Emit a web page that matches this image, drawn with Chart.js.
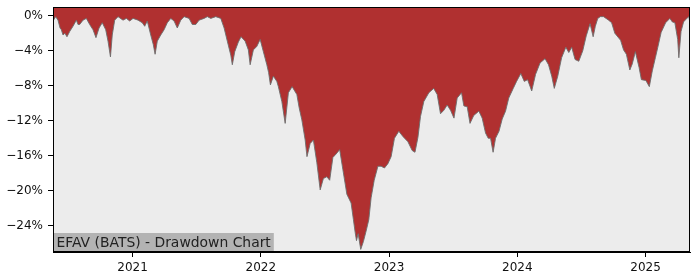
<!DOCTYPE html>
<html>
<head>
<meta charset="utf-8">
<title>EFAV (BATS) - Drawdown Chart</title>
<script src="https://cdn.jsdelivr.net/npm/chart.js@4.4.1/dist/chart.umd.min.js"></script>
<style>
  html, body { margin: 0; padding: 0; background: #ffffff; }
  #wrap { position: relative; width: 700px; height: 280px; }
</style>
</head>
<body>
<div id="wrap"><canvas id="dd-canvas" width="700" height="280"></canvas></div>
<script>
// dates as decimal years
const dates = [
  2020.384, 2020.401, 2020.419, 2020.435, 2020.445, 2020.458, 2020.473, 2020.489, 2020.510, 2020.536,
  2020.562, 2020.575, 2020.588, 2020.614, 2020.640, 2020.666, 2020.692, 2020.715, 2020.739, 2020.764,
  2020.791, 2020.809, 2020.828, 2020.842, 2020.861, 2020.887, 2020.926, 2020.952, 2020.978, 2021.004,
  2021.043, 2021.076, 2021.095, 2021.115, 2021.142, 2021.162, 2021.176, 2021.193, 2021.220, 2021.246,
  2021.271, 2021.298, 2021.324, 2021.349, 2021.376, 2021.402, 2021.441, 2021.466, 2021.493, 2021.519,
  2021.558, 2021.583, 2021.610, 2021.649, 2021.688, 2021.714, 2021.739, 2021.766, 2021.778, 2021.797,
  2021.825, 2021.846, 2021.878, 2021.903, 2021.917, 2021.942, 2021.969, 2021.995, 2022.020, 2022.047,
  2022.061, 2022.075, 2022.098, 2022.125, 2022.137, 2022.164, 2022.190, 2022.215, 2022.244, 2022.281,
  2022.299, 2022.320, 2022.346, 2022.360, 2022.385, 2022.410, 2022.437, 2022.463, 2022.488, 2022.515,
  2022.537, 2022.562, 2022.587, 2022.615, 2022.640, 2022.671, 2022.704, 2022.722, 2022.736, 2022.746,
  2022.759, 2022.779, 2022.800, 2022.821, 2022.842, 2022.860, 2022.884, 2022.913, 2022.938, 2022.964,
  2022.991, 2023.016, 2023.042, 2023.076, 2023.108, 2023.147, 2023.180, 2023.202, 2023.225, 2023.245,
  2023.271, 2023.310, 2023.348, 2023.375, 2023.401, 2023.427, 2023.453, 2023.479, 2023.506, 2023.531,
  2023.565, 2023.583, 2023.609, 2023.631, 2023.660, 2023.700, 2023.726, 2023.752, 2023.773, 2023.791,
  2023.811, 2023.830, 2023.857, 2023.882, 2023.908, 2023.933, 2023.968, 2023.994, 2024.027, 2024.054,
  2024.080, 2024.112, 2024.142, 2024.177, 2024.216, 2024.243, 2024.268, 2024.288, 2024.315, 2024.345,
  2024.378, 2024.401, 2024.424, 2024.450, 2024.479, 2024.510, 2024.537, 2024.567, 2024.591, 2024.608,
  2024.627, 2024.647, 2024.672, 2024.711, 2024.735, 2024.760, 2024.805, 2024.828, 2024.850, 2024.877,
  2024.896, 2024.920, 2024.949, 2024.967, 2025.002, 2025.029, 2025.052, 2025.076, 2025.095, 2025.121,
  2025.156, 2025.189, 2025.208, 2025.228, 2025.250, 2025.259, 2025.276, 2025.296, 2025.321, 2025.337,
  2025.345
];

// drawdown in percent
const drawdown = [
  -0.5, -0.1, -0.5, -1.4, -1.6, -2.2, -2.0, -2.4, -1.8, -1.2,
  -0.5, -1.0, -1.0, -0.5, -0.3, -1.0, -1.6, -2.5, -1.4, -0.8,
  -1.6, -2.9, -4.7, -2.2, -0.5, -0.1, -0.5, -0.3, -0.6, -0.3,
  -0.5, -0.8, -1.2, -0.6, -2.2, -3.3, -4.4, -2.9, -2.2, -1.6,
  -0.8, -0.3, -0.6, -1.4, -0.5, -0.1, -0.3, -1.0, -1.0, -0.5,
  -0.3, -0.1, -0.3, -0.1, -0.3, -1.4, -2.9, -4.5, -5.6, -4.1,
  -3.0, -2.4, -2.9, -3.9, -5.6, -3.9, -3.5, -2.7, -4.1, -5.6,
  -6.5, -7.9, -6.9, -7.5, -8.1, -9.8, -12.3, -8.8, -8.1, -9.0,
  -10.5, -11.9, -14.2, -16.1, -14.6, -14.2, -16.8, -19.9, -18.6, -18.4,
  -18.8, -16.2, -15.8, -15.3, -17.6, -20.4, -21.4, -23.3, -24.8, -25.7,
  -24.9, -26.7, -25.8, -24.6, -23.3, -20.8, -18.8, -17.2, -17.2, -17.4,
  -16.9, -16.1, -14.0, -13.2, -13.8, -14.4, -15.4, -15.6, -13.9, -11.5,
  -9.8, -8.8, -8.3, -9.0, -11.2, -10.8, -10.2, -10.8, -11.7, -9.4,
  -8.8, -10.3, -10.4, -12.3, -11.4, -10.9, -11.7, -13.4, -14.0, -14.0,
  -15.6, -14.0, -13.2, -11.8, -10.9, -9.4, -8.3, -7.5, -6.6, -7.5,
  -7.3, -8.6, -6.7, -5.4, -4.9, -5.6, -6.9, -8.3, -6.9, -4.8,
  -3.6, -4.2, -3.6, -5.0, -5.2, -4.0, -2.3, -0.9, -2.4, -1.2,
  -0.3, -0.1, -0.1, -0.5, -0.8, -2.0, -2.8, -3.9, -4.4, -6.2,
  -5.5, -4.1, -5.9, -7.3, -7.4, -8.1, -6.3, -4.8, -3.6, -1.9,
  -0.8, -0.3, -0.7, -0.8, -2.7, -4.8, -1.8, -0.7, -0.3, -0.1,
  -0.8
];

const xTicks = [2021, 2022, 2023, 2024, 2025];
const yTicks = [0, -4, -8, -12, -16, -20, -24];
const chartTitle = "EFAV (BATS) - Drawdown Chart";

const tickFont = { family: "DejaVu Sans", size: 12 };

//Plot background, frame and title box
const framePlugin = {
  id: "frame",
  beforeDraw(chart) {
    const { ctx, chartArea: a } = chart;
    ctx.save();
    ctx.fillStyle = "#ececec";
    ctx.fillRect(a.left, a.top, a.right - a.left, a.bottom - a.top);
    ctx.restore();
  },
  afterDatasetsDraw(chart) {
    const { ctx, chartArea: a } = chart;
    ctx.save();
    ctx.font = "13.9px 'DejaVu Sans'";
    const w = ctx.measureText(chartTitle).width;
    ctx.fillStyle = "#b3b3b3";
    ctx.fillRect(a.left, a.bottom - 19, w + 6.5, 19);
    ctx.fillStyle = "#222222";
    ctx.textBaseline = "alphabetic";
    ctx.fillText(chartTitle, a.left + 3.5, a.bottom - 5);
    ctx.strokeStyle = "#000000";
    ctx.lineWidth = 1;
    ctx.strokeRect(a.left + 0.5, a.top + 0.5, a.right - a.left - 1, a.bottom - a.top - 1);
    ctx.restore();
  },
};

const points = dates.map((d, i) => ({ x: d, y: drawdown[i] }));

new Chart(document.getElementById("dd-canvas"), {
  type: "line",
  data: {
    datasets: [
      {
        label: "Drawdown",
        data: points,
        borderColor: "rgba(110,110,110,0.9)",
        borderWidth: 1,
        backgroundColor: "#b03030",
        pointRadius: 0,
        tension: 0,
        fill: "end",
      },
    ],
  },
  options: {
    responsive: false,
    animation: false,
    layout: { padding: { left: 0, top: 7, right: 10, bottom: 0 } },
    plugins: {
      legend: { display: false },
      tooltip: { enabled: false },
    },
    scales: {
      x: {
        type: "linear",
        min: 2020.38,
        max: 2025.346,
        afterFit: (scale) => {
          scale.height = 28;
          scale.paddingLeft = 0;
          scale.paddingRight = 0;
        },
        afterBuildTicks: (scale) => { scale.ticks = xTicks.map((v) => ({ value: v })); },
        grid: { drawOnChartArea: false, tickLength: 5, tickColor: "#000" },
        border: { display: true, color: "#000" },
        ticks: {
          font: tickFont,
          color: "#111",
          padding: 4,
          maxRotation: 0,
          callback: (v) => String(v),
        },
      },
      y: {
        type: "linear",
        min: -27,
        max: 1,
        afterFit: (scale) => {
          scale.width = 53;
          scale.paddingTop = 0;
          scale.paddingBottom = 0;
        },
        afterBuildTicks: (scale) => { scale.ticks = yTicks.map((v) => ({ value: v })); },
        grid: { drawOnChartArea: false, tickLength: 5, tickColor: "#000" },
        border: { display: true, color: "#000" },
        ticks: {
          font: tickFont,
          color: "#111",
          padding: 5,
          callback: (v) => (v < 0 ? "\u2212" + Math.abs(v) : v) + "%",
        },
      },
    },
  },
  plugins: [framePlugin],
});
</script>
</body>
</html>
